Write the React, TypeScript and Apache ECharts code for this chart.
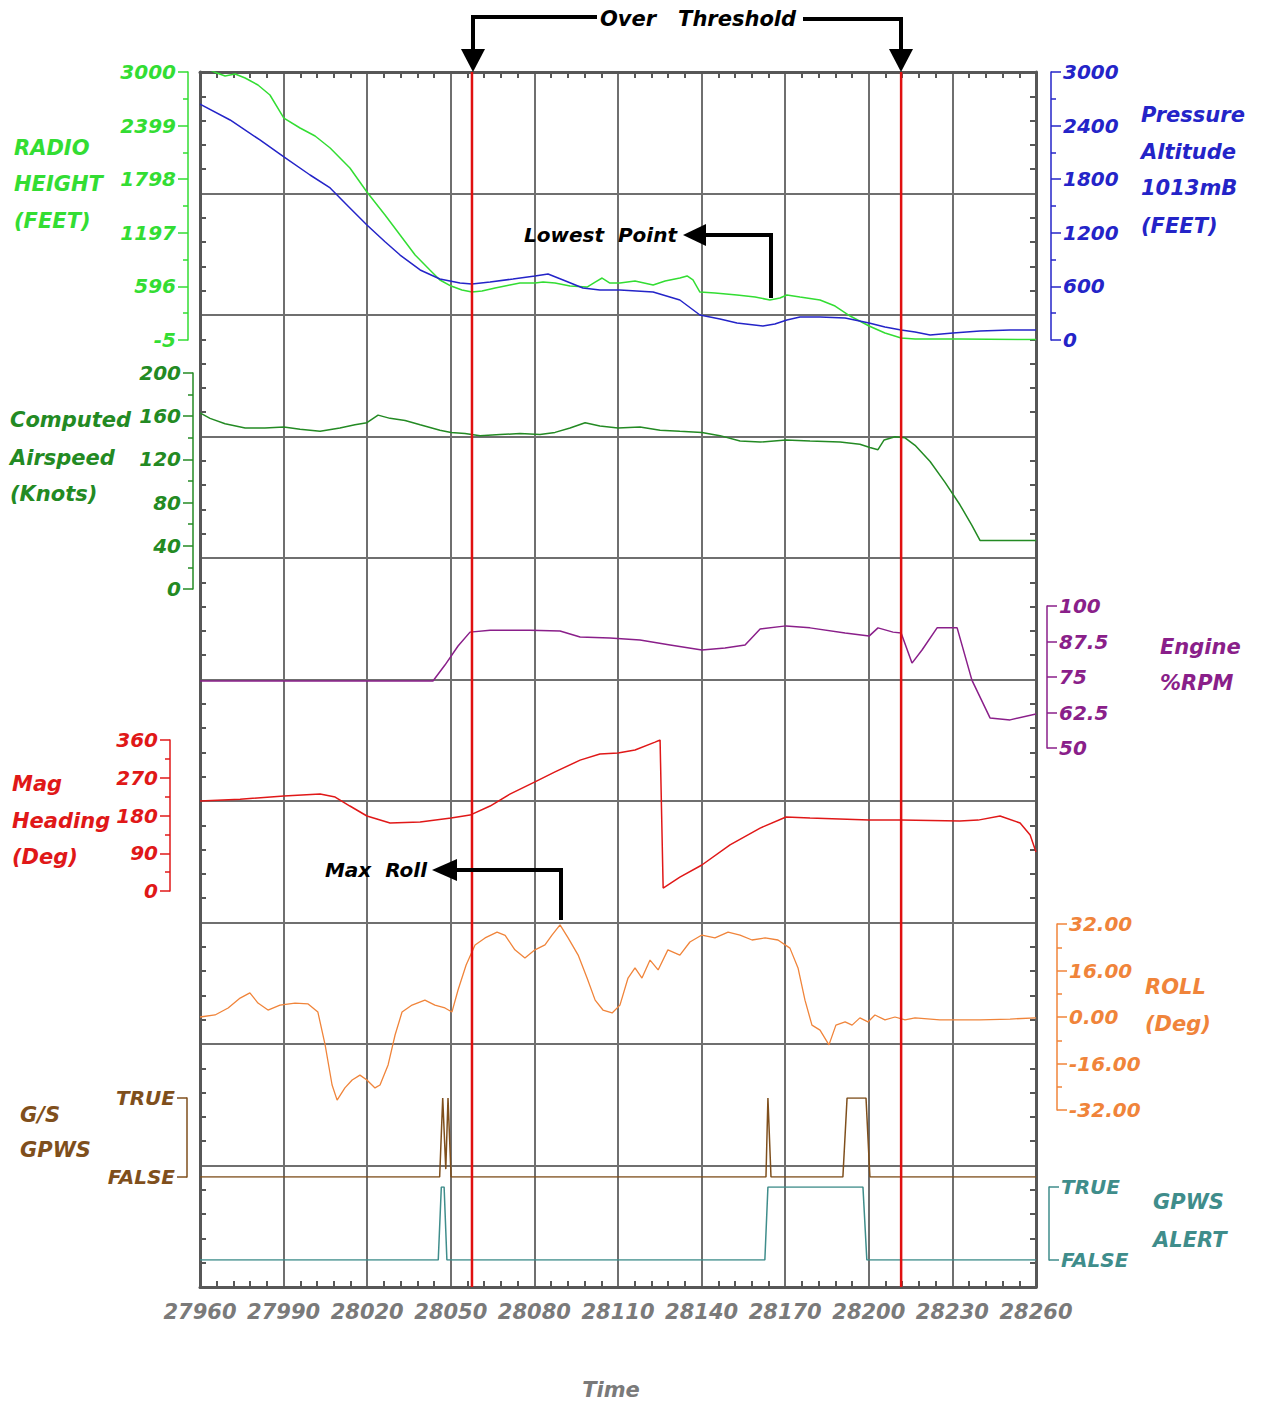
import React, { useEffect, useRef } from "react";
import * as echarts from "echarts";

// ---------- DATA ----------
const T_MIN = 27960;
const T_MAX = 28260;
const T_STEP = 30;

const radioHeight: number[][] = [
  [27960, 3100], [27961.8, 3045], [27966.1, 2989], [27969.0, 2955], [27972.6, 2978], [27976.2, 2933],
  [27980.8, 2854], [27985.1, 2742], [27990.1, 2484], [27995.9, 2372], [28001.3, 2282], [28006.7, 2148],
  [28013.8, 1924], [28019.9, 1654], [28026.4, 1397], [28031.8, 1172], [28037.2, 948], [28042.5, 780],
  [28046.1, 668], [28050.1, 600], [28054.0, 556], [28057.6, 533], [28061.2, 544], [28065.9, 578],
  [28071.2, 612], [28074.8, 634], [28080.2, 634], [28083.1, 645], [28087.4, 634], [28092.8, 600],
  [28098.9, 589], [28101.8, 645], [28104.3, 690], [28107.1, 634], [28110.7, 634], [28116.1, 657],
  [28122.6, 612], [28126.9, 657], [28132.2, 690], [28134.8, 713], [28136.9, 668], [28139.4, 533],
  [28144.8, 522], [28152.7, 500], [28159.2, 477], [28164.5, 444], [28168.1, 466], [28170.6, 500],
  [28175.3, 477], [28182.5, 444], [28187.9, 376], [28193.3, 264], [28200.1, 152], [28205.8, 73],
  [28211.6, 17], [28216.6, 6], [28232.7, 6], [28260, 0],
];

const pressureAlt: number[][] = [
  [27960, 2640], [27970.8, 2463], [27981.5, 2239], [27990.1, 2049], [27999.5, 1847], [28006.7, 1702],
  [28013.8, 1478], [28019.9, 1287], [28026.4, 1100], [28031.8, 951], [28039.0, 784], [28046.1, 683],
  [28053.3, 638], [28057.6, 627], [28064.1, 649], [28072.3, 683], [28080.2, 716], [28084.9, 739],
  [28090.3, 672], [28097.4, 582], [28103.5, 560], [28110.7, 560], [28122.6, 537], [28132.2, 448],
  [28139.4, 280], [28146.6, 235], [28152.7, 190], [28162.0, 157], [28166.3, 179], [28170.6, 224],
  [28175.3, 257], [28182.5, 257], [28191.5, 246], [28200.1, 190], [28205.8, 146], [28211.6, 112],
  [28216.6, 90], [28222.0, 56], [28230.2, 78], [28239.9, 101], [28250.7, 112], [28260, 112],
];

const airspeed: number[][] = [
  [27960, 163], [27963.6, 158], [27969.0, 153], [27976.2, 149], [27983.3, 149], [27990.1, 150],
  [27995.9, 148], [28003.1, 146], [28010.2, 149], [28015.6, 152], [28019.9, 154], [28023.9, 161],
  [28028.2, 158], [28033.6, 156], [28039.0, 152], [28046.1, 147], [28050.1, 145], [28055.1, 144],
  [28060.5, 142], [28067.7, 143], [28074.8, 144], [28082.0, 143], [28087.4, 145], [28092.8, 149],
  [28098.2, 154], [28103.5, 151], [28110.0, 149], [28117.9, 150], [28125.1, 147], [28132.2, 146],
  [28140.1, 145], [28146.6, 142], [28153.8, 137], [28161.0, 136], [28170.3, 138], [28178.9, 137],
  [28189.7, 136], [28196.8, 134], [28200.4, 131], [28203.3, 129], [28205.5, 138], [28209.4, 141],
  [28213.0, 140], [28216.6, 133], [28222.0, 118], [28227.3, 99], [28232.7, 78], [28237.0, 59],
  [28239.9, 45], [28247.1, 45], [28260, 45],
];

const engineRpm: number[][] = [
  [27960, 73.6], [28043.6, 73.6], [28047.9, 79.2], [28052.6, 85.9], [28056.9, 90.8], [28064.1, 91.5],
  [28078.4, 91.5], [28089.2, 91.2], [28096.4, 89.1], [28107.1, 88.7], [28117.9, 88.0], [28128.7, 86.3],
  [28140.1, 84.5], [28148.4, 85.2], [28155.6, 86.3], [28161.0, 91.9], [28170.3, 93.0], [28178.9, 92.3],
  [28191.5, 90.5], [28200.1, 89.4], [28203.3, 92.3], [28208.7, 90.8], [28211.6, 90.5], [28215.5, 79.9],
  [28219.1, 84.5], [28224.5, 92.3], [28231.7, 92.3], [28237.0, 73.9], [28243.5, 60.6], [28250.7, 59.9],
  [28260, 62.0],
];

const magHeading: number[][] = [
  [27960, 214.6], [27974.4, 219], [27990.1, 226.5], [28003.1, 231], [28008.5, 224], [28013.8, 202.6],
  [28019.9, 178.8], [28028.2, 162], [28039.0, 164.5], [28050.1, 174], [28056.9, 181], [28064.1, 202.6],
  [28071.2, 231], [28080.2, 260], [28087.4, 284], [28096.4, 312], [28103.5, 326.6], [28110.0, 329],
  [28116.1, 336], [28123.3, 355], [28125.1, 360], [28126.2, 7], [28132.2, 33], [28140.1, 62],
  [28150.2, 110], [28161.0, 150], [28170.3, 176.4], [28178.9, 174], [28200.1, 169], [28211.6, 169],
  [28232.7, 167], [28239.2, 169], [28247.1, 178.8], [28254.3, 162], [28257.9, 133.5], [28260, 93],
];

const roll: number[][] = [
  [27960, 0.0], [27965.4, 0.7], [27970.1, 3.1], [27974.4, 6.5], [27977.9, 8.3], [27980.8, 4.8],
  [27984.4, 2.4], [27988.7, 4.1], [27994.1, 4.8], [27998.8, 4.5], [28002.3, 1.7], [28004.9, -9.6],
  [28007.4, -23.4], [28009.2, -28.6], [28012.0, -24.4], [28014.6, -21.7], [28017.4, -20.0], [28019.9, -21.7],
  [28022.8, -24.4], [28024.6, -23.4], [28027.5, -16.5], [28030.0, -6.2], [28032.5, 1.7], [28036.1, 4.1],
  [28040.7, 5.8], [28044.3, 4.1], [28047.9, 3.1], [28050.4, 1.7], [28052.6, 9.3], [28055.5, 17.9],
  [28058.7, 24.8], [28062.3, 27.2], [28066.6, 29.2], [28069.5, 28.1], [28073.0, 23.1], [28076.6, 20.3],
  [28080.2, 23.1], [28083.8, 24.8], [28086.3, 28.2], [28089.2, 31.7], [28092.1, 27.2], [28095.7, 21.3],
  [28098.9, 13.4], [28101.8, 5.8], [28104.6, 2.4], [28107.9, 1.4], [28110.7, 4.1], [28113.6, 13.4],
  [28116.1, 16.9], [28118.6, 13.4], [28121.5, 19.6], [28124.4, 16.2], [28127.9, 23.1], [28132.2, 21.3],
  [28135.8, 25.8], [28140.1, 28.2], [28144.8, 27.2], [28149.5, 29.2], [28153.8, 28.2], [28158.1, 26.5],
  [28162.8, 27.2], [28167.4, 26.5], [28171.7, 23.7], [28174.6, 16.9], [28177.1, 5.8], [28179.6, -2.8],
  [28182.5, -4.5], [28185.7, -9.6], [28188.2, -2.8], [28191.5, -1.7], [28194.0, -2.8], [28196.8, -0.3],
  [28199.7, -1.7], [28202.2, 0.7], [28205.8, -1.0], [28209.4, 0], [28213.0, -1.0], [28216.6, -0.3],
  [28225.5, -1.0], [28239.9, -1.0], [28250.7, -0.7], [28260, -0.3],
];

const gsGpws: number[][] = [
  [27960, 0], [28046.0, 0], [28047.1, 1], [28048.2, 0.1], [28049.0, 1], [28050.1, 0],
  [28163.1, 0], [28163.8, 1], [28164.9, 0], [28190.7, 0], [28192.2, 1], [28199.0, 1],
  [28200.4, 0], [28260, 0],
];

const gpwsAlert: number[][] = [
  [27960, 0], [28045.5, 0], [28046.6, 1], [28047.6, 1], [28048.6, 0], [28162.7, 0],
  [28163.8, 1], [28197.9, 1], [28199.3, 0], [28260, 0],
];

const thresholdTimes: number[] = [28057.6, 28211.6];
const boolLabels: string[] = ["FALSE", "TRUE"];

// ---------- STYLE ----------
const FONT = '"DejaVu Sans", "Liberation Sans", sans-serif';
const FRAME = "#575757";
const GRIDC = "#6f6f6f";
const C = {
  radio: "#33dd33",
  press: "#2424c8",
  air: "#238a23",
  rpm: "#8a1f8a",
  head: "#e01818",
  roll: "#f0843a",
  gs: "#7f4f1c",
  alert: "#3f8d8b",
  time: "#7a7a7a",
};

const GRID_LEFT = 200;
const GRID_W = 836;

function App() {
  const ref = useRef<HTMLDivElement>(null);

  useEffect(() => {
    if (!ref.current) return;
    const chart = echarts.init(ref.current, null, { renderer: "svg" });

    const lblFont = { fontFamily: FONT, fontWeight: "bold" as const, fontStyle: "italic" as const, fontSize: 20 };
    const plain = (v: number) => String(v);

    const grids = [
      { top: 72, height: 1215 },
      { top: 72, height: 268 },
      { top: 373, height: 216 },
      { top: 606, height: 142 },
      { top: 740, height: 151 },
      { top: 924, height: 186 },
      { top: 1098, height: 79 },
      { top: 1187, height: 73 },
    ].map((g) => ({ left: GRID_LEFT, width: GRID_W, top: g.top, height: g.height, outerBoundsMode: "none", containLabel: false }));

    const frameX = (pos: string, labels: boolean, split: boolean) => ({
      type: "value",
      gridIndex: 0,
      position: pos,
      min: T_MIN,
      max: T_MAX,
      interval: T_STEP,
      axisLine: { show: true, onZero: false, lineStyle: { color: FRAME, width: 3 } },
      axisTick: { show: false, inside: true },
      minorTick: { show: true, splitNumber: 5, length: 6, lineStyle: { color: FRAME, width: 2 } },
      splitLine: { show: split, lineStyle: { color: GRIDC, width: 2 } },
      axisLabel: labels ? { show: true, color: C.time, margin: 14, ...lblFont, fontSize: 21, formatter: plain } : { show: false },
    });

    const frameY = (pos: string, split: boolean) => ({
      type: "value",
      gridIndex: 0,
      position: pos,
      min: 0,
      max: 10,
      interval: 1,
      axisLine: { show: true, onZero: false, lineStyle: { color: FRAME, width: 3 } },
      axisTick: { show: false, inside: true },
      minorTick: { show: true, splitNumber: 5, length: 6, lineStyle: { color: FRAME, width: 2 } },
      splitLine: { show: split, lineStyle: { color: GRIDC, width: 2 } },
      axisLabel: { show: false },
    });

    const hiddenX = (gi: number) => ({ type: "value", gridIndex: gi, min: T_MIN, max: T_MAX, show: false });

    const sideY = (
      gi: number,
      pos: string,
      offset: number,
      color: string,
      min: number,
      max: number,
      interval: number,
      minor: boolean,
      formatter: (v: number) => string = plain
    ) => ({
      type: "value",
      gridIndex: gi,
      position: pos,
      offset,
      min,
      max,
      interval,
      axisLine: { show: true, onZero: false, lineStyle: { color, width: 1.5 } },
      axisTick: { show: true, length: 10, lineStyle: { color, width: 1.5 } },
      minorTick: { show: minor, splitNumber: 2, length: 5, lineStyle: { color, width: 1.5 } },
      splitLine: { show: false },
      axisLabel: { show: true, color, margin: 12, ...lblFont, formatter },
    });

    const boolFmt = (v: number) => boolLabels[Math.round(v)];

    const line = (name: string, data: number[][], xi: number, yi: number, color: string, width = 1.5) => ({
      name,
      type: "line",
      xAxisIndex: xi,
      yAxisIndex: yi,
      data,
      showSymbol: false,
      symbol: "none",
      silent: true,
      clip: true,
      lineStyle: { color, width },
      z: 3,
    });

    const T = (x: number, y: number, text: string, color: string, align = "left", size = 21) => ({
      type: "text",
      x,
      y,
      z: 100,
      silent: true,
      style: {
        text,
        fill: color,
        font: `italic bold ${size}px ${FONT}`,
        align,
        verticalAlign: "middle",
        textAlign: align,
        textVerticalAlign: "middle",
      },
    });

    const titleBlock = (x: number, ys: number[], lines: string[], color: string) =>
      lines.map((s, i) => T(x, ys[i], s, color));

    const blk = { stroke: "#000", lineWidth: 4, fill: "none" };

    const graphics: any[] = [
      ...titleBlock(14, [148, 184, 221], ["RADIO", "HEIGHT", "(FEET)"], C.radio),
      ...titleBlock(1141, [115, 152, 188, 226], ["Pressure", "Altitude", "1013mB", "(FEET)"], C.press),
      ...titleBlock(10, [420, 458, 494], ["Computed", "Airspeed", "(Knots)"], C.air),
      ...titleBlock(1160, [647, 683], ["Engine", "%RPM"], C.rpm),
      ...titleBlock(12, [784, 821, 857], ["Mag", "Heading", "(Deg)"], C.head),
      ...titleBlock(1145, [987, 1024], ["ROLL", "(Deg)"], C.roll),
      ...titleBlock(20, [1115, 1150], ["G/S", "GPWS"], C.gs),
      ...titleBlock(1153, [1202, 1240], ["GPWS", "ALERT"], C.alert),
      T(611, 1390, "Time", C.time, "center"),
      // Over Threshold bracket
      T(600, 19, "Over   Threshold", "#000", "left", 21),
      { type: "polyline", z: 100, silent: true, shape: { points: [[597, 17], [473, 17], [473, 52]] }, style: blk },
      { type: "polygon", z: 100, silent: true, shape: { points: [[461, 49], [485, 49], [473, 72]] }, style: { fill: "#000" } },
      { type: "polyline", z: 100, silent: true, shape: { points: [[803, 19], [901, 19], [901, 52]] }, style: blk },
      { type: "polygon", z: 100, silent: true, shape: { points: [[889, 49], [913, 49], [901, 72]] }, style: { fill: "#000" } },
      // Lowest Point
      T(677, 235, "Lowest  Point", "#000", "right", 20),
      { type: "polyline", z: 100, silent: true, shape: { points: [[702, 235], [771, 235], [771, 298]] }, style: blk },
      { type: "polygon", z: 100, silent: true, shape: { points: [[683, 235], [706, 224], [706, 246]] }, style: { fill: "#000" } },
      // Max Roll
      T(427, 870, "Max  Roll", "#000", "right", 20),
      { type: "polyline", z: 100, silent: true, shape: { points: [[454, 870], [561, 870], [561, 920]] }, style: blk },
      { type: "polygon", z: 100, silent: true, shape: { points: [[432, 870], [457, 859], [457, 881]] }, style: { fill: "#000" } },
    ];

    const option: any = {
      animation: false,
      backgroundColor: "#ffffff",
      grid: grids,
      xAxis: [
        frameX("bottom", true, true),
        frameX("top", false, false),
        hiddenX(1),
        hiddenX(2),
        hiddenX(3),
        hiddenX(4),
        hiddenX(5),
        hiddenX(6),
        hiddenX(7),
      ],
      yAxis: [
        frameY("left", true),
        frameY("right", false),
        sideY(1, "left", 12, C.radio, -5, 3000, 601, true),
        sideY(1, "right", 15, C.press, 0, 3000, 600, true),
        sideY(2, "left", 7, C.air, 0, 200, 40, true),
        sideY(3, "right", 11, C.rpm, 50, 100, 12.5, false),
        sideY(4, "left", 30, C.head, 0, 360, 90, true),
        sideY(5, "right", 21, C.roll, -32, 32, 16, true, (v: number) => v.toFixed(2)),
        sideY(6, "left", 13, C.gs, 0, 1, 1, false, boolFmt),
        sideY(7, "right", 13, C.alert, 0, 1, 1, false, boolFmt),
      ],
      series: [
        line("Radio Height", radioHeight, 2, 2, C.radio),
        line("Pressure Altitude", pressureAlt, 2, 3, C.press),
        line("Computed Airspeed", airspeed, 3, 4, C.air),
        line("Engine %RPM", engineRpm, 4, 5, C.rpm),
        line("Mag Heading", magHeading, 5, 6, C.head),
        line("Roll", roll, 6, 7, C.roll, 1.3),
        line("G/S GPWS", gsGpws, 7, 8, C.gs),
        line("GPWS Alert", gpwsAlert, 8, 9, C.alert),
        ...thresholdTimes.map((t, i) => ({
          name: "Threshold " + (i + 1),
          type: "line",
          xAxisIndex: 0,
          yAxisIndex: 0,
          data: [[t, 0], [t, 10]],
          showSymbol: false,
          symbol: "none",
          silent: true,
          lineStyle: { color: "#e01010", width: 2.5 },
          z: 5,
        })),
      ],
      graphic: graphics,
    };

    chart.setOption(option);
    return () => chart.dispose();
  }, []);

  return <div ref={ref} style={{ position: "absolute", left: 0, top: 0, width: 1268, height: 1407 }} />;
}

export default App;
